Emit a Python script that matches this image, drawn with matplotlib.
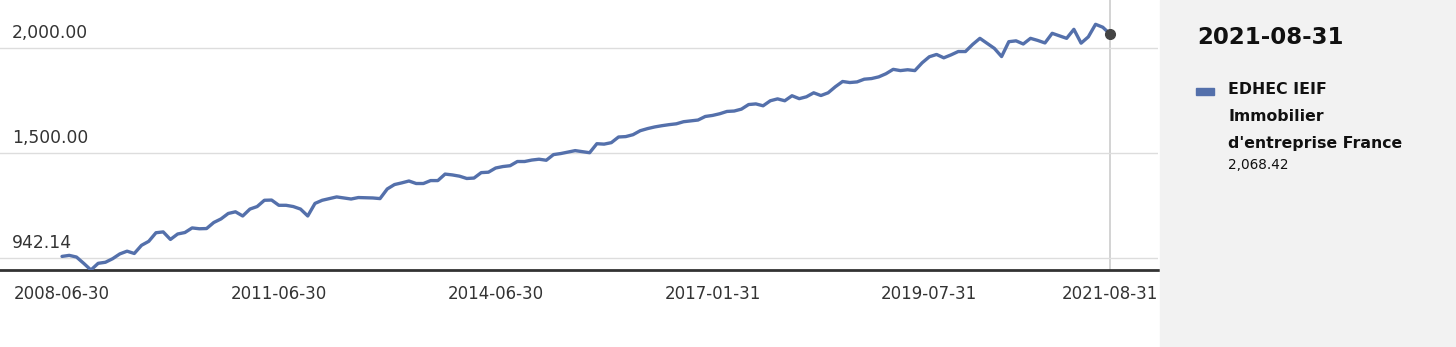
import matplotlib
matplotlib.use("Agg")
import matplotlib.pyplot as plt
from matplotlib.patches import Rectangle
import matplotlib.transforms as mtransforms

plt.rcParams['font.family'] = ['DejaVu Sans']

# index values, one point per period (categorical x axis)
values = [
    1007, 1012, 1004, 974, 942.14, 974, 979, 996, 1019, 1032,
    1021, 1060, 1079, 1120, 1124, 1088, 1114, 1121, 1143, 1139,
    1140, 1169, 1186, 1212, 1220, 1200, 1233, 1245, 1275, 1276,
    1251, 1251, 1245, 1233, 1200, 1260, 1275, 1283, 1291, 1286,
    1281, 1288, 1287, 1286, 1283, 1329, 1350, 1358, 1367, 1355,
    1355, 1369, 1369, 1400, 1396, 1390, 1379, 1381, 1407, 1409,
    1429, 1436, 1440, 1460, 1460, 1467, 1471, 1466, 1493, 1498,
    1505, 1512, 1507, 1502, 1545, 1543, 1550, 1577, 1579, 1588,
    1607, 1617, 1625, 1631, 1636, 1640, 1650, 1654, 1658, 1675,
    1680, 1688, 1699, 1701, 1710, 1732, 1735, 1726, 1750, 1759,
    1750, 1774, 1760, 1769, 1788, 1775, 1788, 1817, 1842, 1837,
    1840, 1853, 1856, 1864, 1879, 1900, 1894, 1898, 1894, 1931,
    1960, 1971, 1955, 1969, 1985, 1985, 2019, 2048, 2024, 2000,
    1961, 2032, 2036, 2021, 2048, 2038, 2026, 2072, 2060, 2048,
    2091, 2025, 2055, 2115, 2101, 2068.42,
]
tick_index = [0, 30, 60, 90, 120, 145]
tick_labels = ['2008-06-30', '2011-06-30', '2014-06-30', '2017-01-31',
               '2019-07-31', '2021-08-31']
grid_values = [1000, 1500, 2000]
grid_labels = ['942.14', '1,500.00', '2,000.00']
series_lines = ['EDHEC IEIF', 'Immobilier', "d'entreprise France"]
last_date = '2021-08-31'
last_value = '2,068.42'

line_color = '#5470ab'
text_color = '#333333'

W, H = 1456, 347
fig = plt.figure(figsize=(W / 100, H / 100), dpi=100)

# right side legend panel
fig.patches.append(Rectangle((1160 / W, 0), 1 - 1160 / W, 1,
                             transform=fig.transFigure, color='#f2f2f2', zorder=0))

ax = fig.add_axes([0, (H - 270) / H, 1158 / W, 270 / H])
ax.set_facecolor('none')
x = list(range(len(values)))
ax.plot(x, values, color=line_color, lw=2.4, solid_joinstyle='round',
        solid_capstyle='round', zorder=3)
ax.plot(x[-1], values[-1], 'o', color='#444444', ms=7, zorder=4)
ax.axvline(x[-1], color='#cccccc', lw=1.2, zorder=1)

ax.set_xlim(-8.58, 151.64)
ax.set_ylim(942.14, 2231)

for v in grid_values:
    ax.axhline(v, color='#dddddd', lw=1, zorder=1)
trans = mtransforms.blended_transform_factory(ax.transAxes, ax.transData)
for v, lab in zip(grid_values, grid_labels):
    ax.text(0.0104, v + 30, lab, transform=trans, ha='left', va='bottom',
            fontsize=12.3, color=text_color)

ax.set_yticks([])
ax.set_xticks(tick_index, tick_labels)
ax.tick_params(axis='x', length=0, pad=11, labelsize=12, labelcolor=text_color)
for s in ['top', 'right', 'left']:
    ax.spines[s].set_visible(False)
ax.spines['bottom'].set_color('#333333')
ax.spines['bottom'].set_linewidth(2)

# legend panel text
fig.text(1197 / W, 1 - 37 / H, last_date, fontsize=16.5, fontweight='bold',
         color='#111111', va='center', ha='left')
fig.patches.append(Rectangle((1196 / W, 1 - 95 / H), 18 / W, 7 / H,
                             transform=fig.transFigure, color=line_color))
for k, line in enumerate(series_lines):
    fig.text(1228 / W, 1 - (90 + 27 * k) / H, line, fontsize=11.3,
             fontweight='bold', color='#111111', va='center', ha='left')
fig.text(1228 / W, 1 - 165 / H, last_value, fontsize=9.8,
         color='#111111', va='center', ha='left')

fig.savefig('out.png', dpi=100)
